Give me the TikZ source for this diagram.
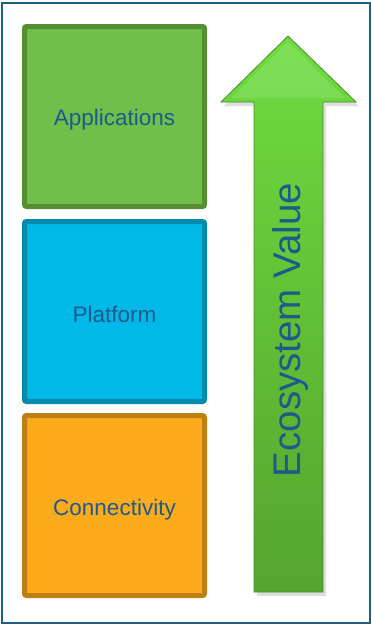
\documentclass[tikz,border=0pt]{standalone}
\usepackage{fontspec}
\setmainfont{Liberation Sans}
\definecolor{frame}{HTML}{1F5F7F}
\definecolor{txt}{HTML}{1E5A8A}
\definecolor{gfill}{HTML}{6FBF4A}
\definecolor{gline}{HTML}{568E34}
\definecolor{bfill}{HTML}{00B9E9}
\definecolor{bline}{HTML}{008AAE}
\definecolor{ofill}{HTML}{FBAB1B}
\definecolor{oline}{HTML}{BD8012}
\definecolor{atop}{HTML}{6EDC3F}
\definecolor{abot}{HTML}{55A42E}
\definecolor{aedge}{HTML}{4A8F2A}
\tikzset{
  layer/.style={line width=5pt, rounded corners=2pt, minimum width=180pt, minimum height=180pt},
  lbl/.style={text=txt, font=\fontsize{22.5}{26}\selectfont, inner sep=0pt},
}
\begin{document}
\begin{tikzpicture}[x=1pt,y=-1pt]
\useasboundingbox (0,0) rectangle (372,625);
\fill[white] (0,0) rectangle (372,625);
\draw[frame, line width=2pt] (2,3) rectangle (370,623);
% layers
\node[layer, draw=gline, fill=gfill] (app) at (114.5,116.5) {};
\node[layer, draw=bline, fill=bfill] (plat) at (114.5,311.5) {};
\node[layer, draw=oline, fill=ofill] (conn) at (114.5,505.5) {};
\node[lbl] (appt) at ([yshift=-3pt]app.center) {Applications};
\node[lbl] (platt) at ([yshift=-3pt]plat.center) {Platform};
\node[lbl] (connt) at ([yshift=-4pt]conn.center) {Connectivity};
% arrow shadow
\fill[black!25, opacity=0.5] (291,39) -- (359,106) -- (326,106) -- (326,596) -- (257,596) -- (257,106) -- (224,106) -- cycle;
% arrow
\shade[top color=atop, bottom color=abot, draw=aedge, line width=0.8pt]
  (288,36) -- (356,102) -- (323,102) -- (323,592) -- (254,592) -- (254,102) -- (221,102) -- cycle;
\fill[white, opacity=0.12] (288,42) -- (345,98) -- (231,98) -- cycle;
\node[rotate=90, text=txt, font=\fontsize{38.5}{42}\selectfont, inner sep=0pt] (eco) at (291,330) {Ecosystem Value};
\end{tikzpicture}
\end{document}
